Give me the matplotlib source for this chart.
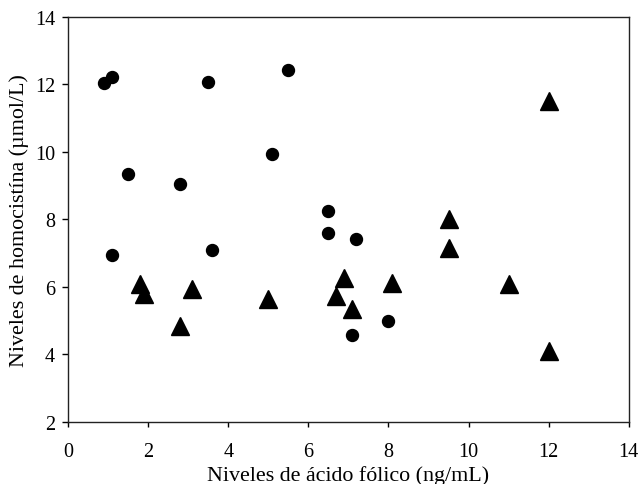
import matplotlib.pyplot as plt

# circulos
circ_x = [0.9, 1.1, 1.5, 2.8, 3.5, 5.1, 5.5, 6.5, 6.5, 7.2, 1.1, 3.6, 8.0, 7.1]
circ_y = [12.05, 12.22, 9.35, 9.04, 12.07, 9.93, 12.43, 8.25, 7.59, 7.42, 6.93, 7.08, 4.98, 4.57]

# triangulos
tri_x = [12.0, 9.5, 9.5, 6.9, 8.1, 11.0, 6.7, 7.1, 12.0, 1.8, 1.9, 3.1, 2.8, 5.0]
tri_y = [11.49, 8.02, 7.15, 6.27, 6.12, 6.09, 5.73, 5.33, 4.10, 6.07, 5.80, 5.94, 4.84, 5.65]

plt.rcParams['font.family'] = ['Liberation Serif', 'DejaVu Serif']

fig = plt.figure(figsize=(6.41, 4.85), dpi=100)
ax = fig.add_axes([0.106, 0.128, 0.875, 0.8355])

ax.plot(circ_x, circ_y, 'o', color='black', markersize=8.6, linestyle='none')
ax.plot(tri_x, tri_y, '^', color='black', markersize=13.5, linestyle='none')

ax.set_xlim(0, 14)
ax.set_ylim(2, 14)
ax.set_xticks(range(0, 15, 2))
ax.set_yticks(range(2, 15, 2))
ax.tick_params(axis='x', direction='out', length=3.8, width=1, labelsize=14.5, pad=10.5)
ax.tick_params(axis='y', direction='out', length=4.3, width=1, labelsize=14.5, pad=5)
ax.tick_params(top=False, right=False)
for s in ax.spines.values():
    s.set_linewidth(1)
    s.set_color('#222222')

ax.set_xlabel('Niveles de ácido fólico (ng/mL)', fontsize=15.8, labelpad=3)
ax.set_ylabel('Niveles de homocistína (µmol/L)', fontsize=15.8, labelpad=4)

fig.savefig('out.png', dpi=100)
